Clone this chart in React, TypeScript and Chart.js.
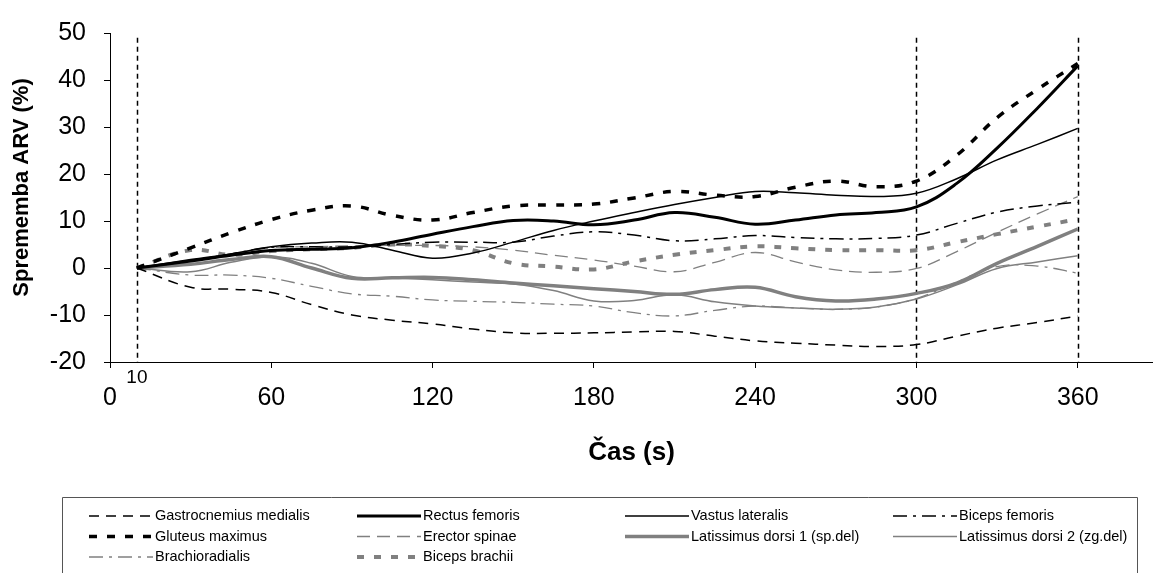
import React, { useEffect, useRef } from "react";
import { Chart, registerables } from "chart.js";

Chart.register(...registerables);

const times = [10, 30, 45, 60, 75, 90, 105, 120, 135, 150, 165, 180, 195, 210, 225, 240, 255, 270, 285, 300, 315, 330, 345, 360];

const gastrocnemius = [0, -4.1, -4.5, -5.2, -7.8, -10, -11.1, -11.9, -13, -13.8, -13.9, -13.8, -13.6, -13.5, -14.5, -15.5, -16, -16.4, -16.7, -16.3, -14.5, -12.8, -11.6, -10.2];
const rectus = [0, 1.5, 2.7, 3.7, 4, 4.3, 5.5, 7.2, 8.8, 10.1, 10, 9.2, 10.2, 11.8, 10.8, 9.3, 10.2, 11.3, 11.8, 13, 18, 25.5, 34, 43];
const vastus = [0, 1.8, 3, 4.5, 5.3, 5.5, 3.8, 2.1, 3.2, 5.5, 8, 10, 11.8, 13.5, 15, 16.3, 16, 15.5, 15.2, 15.9, 19, 23, 26.3, 29.7];
const bicepsFemoris = [0, 1.5, 3, 4.4, 4.5, 4.5, 5, 5.5, 5.5, 5.5, 6.8, 7.7, 7, 5.8, 6.2, 6.9, 6.5, 6.2, 6.3, 7, 9.5, 11.9, 13.2, 14];
const gluteus = [0, 4.3, 7.5, 10.3, 12.3, 13.2, 11.2, 10.2, 11.8, 13.2, 13.4, 13.6, 14.9, 16.3, 15.5, 15.2, 17.2, 18.5, 17.3, 18.5, 24, 32, 38, 43.5];
const erector = [0, 1.5, 3, 4.3, 4.5, 4.7, 4.8, 4.8, 4.5, 3.8, 2.7, 1.7, 0.4, -0.8, 1.2, 3.3, 1.3, -0.4, -0.9, -0.1, 3.5, 7.6, 11.5, 15.2];
const latissimus1 = [0, 0.8, 1.8, 2.4, 0, -2.2, -2.1, -2, -2.5, -3.2, -3.8, -4.4, -5, -5.6, -4.6, -4.1, -6.1, -7, -6.6, -5.4, -3.2, 1, 4.6, 8.3];
const latissimus2 = [0, -0.8, 1.2, 2.4, 1, -1.8, -2.1, -2.5, -3, -3.4, -4.8, -7, -6.9, -5.7, -7.2, -8.1, -8.5, -8.8, -8.3, -6.6, -3.6, -0.1, 1.3, 2.6];
const brachioradialis = [0, -1.5, -1.5, -2.2, -3.9, -5.5, -6, -6.8, -7.1, -7.3, -7.7, -8.1, -9.5, -10.2, -9, -8.1, -8.5, -8.8, -8.3, -6.5, -3, 0.3, 0.4, -1.1];
const bicepsBrachii = [0, 3.8, 2.8, 3.6, 4, 4.3, 5, 4.7, 3.8, 1, 0.3, -0.3, 1.4, 2.8, 3.8, 4.6, 4.2, 3.8, 3.8, 3.8, 5.5, 7.2, 8.8, 10.4];

const seriesNames = [
  "Gastrocnemius medialis",
  "Rectus femoris",
  "Vastus lateralis",
  "Biceps femoris",
  "Gluteus maximus",
  "Erector spinae",
  "Latissimus dorsi 1 (sp.del)",
  "Latissimus dorsi 2 (zg.del)",
  "Brachioradialis",
  "Biceps brachii",
];
const seriesValues = [gastrocnemius, rectus, vastus, bicepsFemoris, gluteus, erector, latissimus1, latissimus2, brachioradialis, bicepsBrachii];

const xTickValues = [0, 60, 120, 180, 240, 300, 360];
const markerTimes = [10, 300, 360];
const startLabel = "10";

const BLACK = "#000000";
const GRAY = "#808080";
const styles = [
  { color: BLACK, width: 1.5, dash: [10, 7] },
  { color: BLACK, width: 3, dash: [] },
  { color: BLACK, width: 1.5, dash: [] },
  { color: BLACK, width: 1.5, dash: [14, 6, 3, 6] },
  { color: BLACK, width: 3.5, dash: [8, 10] },
  { color: GRAY, width: 1.3, dash: [13, 7] },
  { color: GRAY, width: 3.5, dash: [] },
  { color: GRAY, width: 1.5, dash: [] },
  { color: GRAY, width: 1.3, dash: [14, 6, 3, 6] },
  { color: GRAY, width: 4, dash: [7, 10] },
];

const FONT = "'Liberation Sans', Arial, sans-serif";

const extrasPlugin = {
  id: "extras",
  beforeDatasetsDraw(chart: any) {
    const { ctx, chartArea, scales } = chart;
    const xs = scales.x;
    const ys = scales.y;
    ctx.save();
    ctx.strokeStyle = BLACK;
    ctx.lineWidth = 1.5;
    ctx.setLineDash([5, 4]);
    markerTimes.forEach((t) => {
      const px = Math.round(xs.getPixelForValue(t)) + 0.5;
      ctx.beginPath();
      ctx.moveTo(px, ys.getPixelForValue(49));
      ctx.lineTo(px, chartArea.bottom);
      ctx.stroke();
    });
    ctx.restore();
  },
  afterDraw(chart: any) {
    const { ctx, chartArea, scales } = chart;
    const xs = scales.x;
    ctx.save();
    ctx.fillStyle = BLACK;
    ctx.font = `19px ${FONT}`;
    ctx.textAlign = "center";
    ctx.textBaseline = "middle";
    ctx.fillText(startLabel, xs.getPixelForValue(Number(startLabel)), chartArea.bottom + 16);

    ctx.font = `bold 26px ${FONT}`;
    ctx.fillText("Čas (s)", (chartArea.left + chartArea.right) / 2, 453);
    ctx.save();
    ctx.translate(22, (chartArea.top + chartArea.bottom) / 2 - 10);
    ctx.rotate(-Math.PI / 2);
    ctx.font = `bold 22px ${FONT}`;
    ctx.fillText("Sprememba ARV (%)", 0, 0);
    ctx.restore();

    const left = 62, top = 497.5, right = 1137;
    ctx.strokeStyle = "#555555";
    ctx.lineWidth = 1;
    ctx.setLineDash([]);
    ctx.beginPath();
    ctx.moveTo(left + 0.5, 600);
    ctx.lineTo(left + 0.5, top);
    ctx.lineTo(right + 0.5, top);
    ctx.lineTo(right + 0.5, 600);
    ctx.stroke();
    ctx.font = `14.5px ${FONT}`;
    ctx.textAlign = "left";
    ctx.textBaseline = "middle";
    seriesNames.forEach((name, i) => {
      const col = i % 4;
      const row = Math.floor(i / 4);
      const tx = 155 + col * 268;
      const ty = 516 + row * 20.5;
      const st = styles[i];
      ctx.strokeStyle = st.color;
      ctx.lineWidth = st.width;
      ctx.setLineDash(st.dash);
      ctx.beginPath();
      ctx.moveTo(tx - 66, ty);
      ctx.lineTo(tx - 2, ty);
      ctx.stroke();
      ctx.fillStyle = BLACK;
      ctx.fillText(name, tx, ty);
    });
    ctx.restore();
  },
};

export default function App() {
  const ref = useRef<HTMLCanvasElement | null>(null);
  useEffect(() => {
    if (!ref.current) return;
    const chart = new Chart(ref.current, {
      type: "line",
      data: {
        datasets: seriesNames.map((name, i) => ({
          label: name,
          data: times.map((t, j) => ({ x: t, y: seriesValues[i][j] })),
          borderColor: styles[i].color,
          backgroundColor: styles[i].color,
          borderWidth: styles[i].width,
          borderDash: styles[i].dash,
          pointRadius: 0,
          tension: 0.4,
          fill: false,
        })),
      },
      options: {
        animation: false,
        responsive: false,
        devicePixelRatio: 1,
        layout: { padding: { top: 27, right: 0, left: 0, bottom: 161 } },
        plugins: { legend: { display: false }, tooltip: { enabled: false } },
        scales: {
          x: {
            type: "linear",
            min: 0,
            max: 388,
            afterBuildTicks: (scale: any) => {
              scale.ticks = xTickValues.map((v) => ({ value: v }));
            },
            afterFit: (scale: any) => {
              scale.height = 50;
            },
            grid: { display: true, drawOnChartArea: false, drawTicks: true, tickLength: 6, color: BLACK },
            border: { display: true, color: BLACK, width: 1 },
            ticks: { color: BLACK, font: { family: FONT, size: 25 }, padding: 15, maxRotation: 0 },
          },
          y: {
            type: "linear",
            min: -20,
            max: 50,
            afterFit: (scale: any) => {
              scale.width = 110;
            },
            grid: { display: true, drawOnChartArea: false, drawTicks: true, tickLength: 6, color: BLACK },
            border: { display: true, color: BLACK, width: 1 },
            ticks: { stepSize: 10, color: BLACK, font: { family: FONT, size: 25 }, padding: 18 },
          },
        },
      },
      plugins: [extrasPlugin],
    });
    return () => chart.destroy();
  }, []);
  return (
    <div style={{ position: "absolute", left: 0, top: 0, width: 1153, height: 573, background: "#fff" }}>
      <canvas ref={ref} width={1153} height={573} style={{ width: 1153, height: 573, display: "block" }} />
    </div>
  );
}
